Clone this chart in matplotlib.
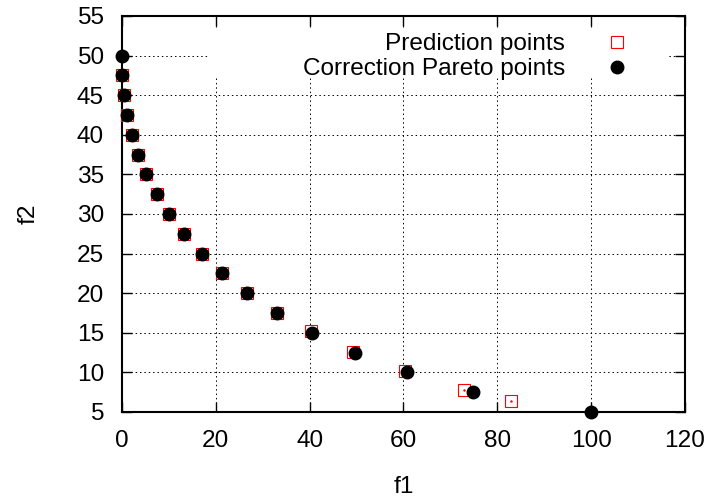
import matplotlib
matplotlib.use('Agg')
import matplotlib.pyplot as plt
from matplotlib.patches import Rectangle

plt.rcParams['font.family'] = ['Liberation Sans', 'DejaVu Sans']

# correction pareto points (black dots)
corr_f1 = [0, 0, 0.4, 1.1, 2.1, 3.5, 5.2, 7.4, 10.0, 13.2, 17.0, 21.4, 26.7, 33.0, 40.6, 49.7, 60.8, 74.8, 100]
corr_f2 = [50, 47.5, 45, 42.5, 40, 37.5, 35, 32.5, 30, 27.5, 25, 22.5, 20, 17.5, 15, 12.5, 10, 7.5, 5]

# prediction points (red open squares)
pred_f1 = [0.1, 0.4, 1.1, 2.1, 3.5, 5.2, 7.4, 10.0, 13.2, 17.0, 21.4, 26.7, 33.0, 40.2, 49.3, 60.4, 73.0, 83.0]
pred_f2 = [47.5, 45, 42.5, 40, 37.5, 35, 32.5, 30, 27.5, 25, 22.5, 20, 17.5, 15.2, 12.6, 10.2, 7.8, 6.4]

x_ticks = [0, 20, 40, 60, 80, 100, 120]
y_ticks = [5, 10, 15, 20, 25, 30, 35, 40, 45, 50, 55]

fs = 17.6
fig = plt.figure(figsize=(7.13, 4.97), dpi=100)
ax = fig.add_axes([122 / 713, 1 - 412 / 497, 563 / 713, 396 / 497])

ax.plot(pred_f1, pred_f2, linestyle='none', marker='s', markersize=8,
        markerfacecolor='none', markeredgecolor='red', markeredgewidth=0.8,
        label='Prediction points', zorder=4, clip_on=False)
ax.plot(pred_f1, pred_f2, linestyle='none', marker='.', markersize=1.5,
        color='red', zorder=4, clip_on=False)
ax.plot(corr_f1, corr_f2, linestyle='none', marker='o', markersize=9,
        color='black', label='Correction Pareto points', zorder=5, clip_on=False)

ax.set_xlim(0, 120)
ax.set_ylim(5, 55)
ax.set_xticks(x_ticks)
ax.set_yticks(y_ticks)
ax.tick_params(direction='in', length=7, width=1, top=True, right=True, labelsize=fs)
ax.tick_params(axis='x', pad=13)
ax.tick_params(axis='y', pad=13)
ax.grid(True, linestyle=(0, (1.5, 3)), color='black', linewidth=0.7)
for s in ax.spines.values():
    s.set_linewidth(1.5)

ax.set_xlabel('f1', fontsize=fs, labelpad=17)
ax.set_ylabel('f2', fontsize=fs, labelpad=27)

# opaque key area like gnuplot
ax.add_patch(Rectangle((0.156, 0.846), 0.812, 0.121, transform=ax.transAxes,
                       facecolor='white', edgecolor='none', zorder=2.6))

ax.legend(loc='upper right', bbox_to_anchor=(0.923, 0.957), frameon=False,
          markerfirst=False, fontsize=fs, borderpad=0, borderaxespad=0,
          handlelength=2, handletextpad=1.13, labelspacing=0.12)

plt.savefig('out.png', dpi=100)
